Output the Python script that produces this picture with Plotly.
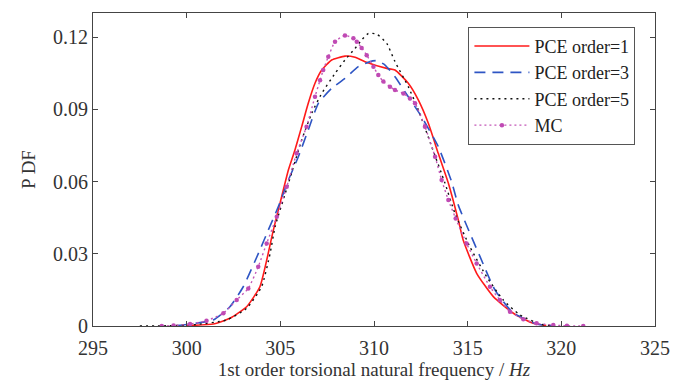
import plotly.graph_objects as go

# PCE order = 1
pce1_x = [300.0, 301.42, 302.31, 303.2, 303.91, 304.63, 305.07, 305.43, 305.78, 306.14, 306.49, 306.85,
          307.21, 307.74, 308.45, 308.99, 309.52, 310.68, 311.12, 311.83, 312.37, 312.9, 313.43, 313.97, 314.5,
          314.76, 315.48, 316.37, 317.44, 318.5, 319.2]
pce1_y = [0.0002, 0.0008, 0.0032, 0.0080, 0.0163, 0.0399, 0.0537, 0.0648, 0.0731, 0.0828, 0.0925, 0.1008,
          0.1063, 0.1105, 0.1121, 0.1116, 0.1098, 0.1070, 0.1063, 0.1008, 0.0938, 0.0842, 0.0717, 0.0593, 0.0440,
          0.0357, 0.0219, 0.0122, 0.0053, 0.0011, 0.0002]

# PCE order = 3
pce3_x = [299.5, 301.42, 302.31, 303.02, 303.91, 304.36, 304.89, 305.43, 305.96, 306.49, 307.03, 307.74, 308.45,
          309.16, 309.79, 310.15, 310.59, 311.12, 311.83, 312.54, 313.43, 314.14, 314.5, 315.66, 316.46, 317.42,
          317.79, 318.68, 319.5]
pce3_y = [0.0002, 0.0025, 0.0080, 0.0163, 0.0316, 0.0399, 0.0495, 0.0606, 0.0703, 0.0814, 0.0925, 0.0987, 0.1028,
          0.1077, 0.1098, 0.1102, 0.1084, 0.1035, 0.0952, 0.0869, 0.0745, 0.0600, 0.0502, 0.0288, 0.0149, 0.0054,
          0.0039, 0.0008, 0.0001]

# PCE order = 5
pce5_x = [297.5, 299.0, 300.5, 302.13, 303.2, 304.0, 304.45, 304.72, 305.43, 306.14, 306.67, 307.21, 307.92,
          308.45, 308.99, 309.34, 309.7, 310.15, 310.68, 311.12, 311.83, 312.37, 313.08, 313.79, 314.32, 315.12,
          316.01, 316.9, 317.79, 318.86, 319.5]
pce5_y = [0.0, 0.0001, 0.0006, 0.0025, 0.0073, 0.0163, 0.0300, 0.0412, 0.0592, 0.0772, 0.0883, 0.0966, 0.1049,
          0.1105, 0.1153, 0.1188, 0.1215, 0.1212, 0.1174, 0.1098, 0.0994, 0.0897, 0.0745, 0.0593, 0.0468, 0.0329,
          0.0205, 0.0108, 0.0046, 0.0008, 0.0001]

# Monte Carlo
mc_x = [298.67, 299.3, 300.18, 301.06, 301.96, 302.67, 303.29, 303.82, 304.27, 304.81, 305.34, 305.87, 306.4,
        306.85, 307.12, 307.29, 307.56, 307.92, 308.45, 308.9, 309.08, 309.34, 309.61, 309.97, 310.23, 310.5,
        310.85, 311.12, 311.57, 311.92, 312.19, 312.72, 313.26, 313.61, 313.97, 314.36, 314.94, 315.48, 316.19,
        316.72, 317.26, 317.97, 318.68, 319.57, 320.3, 321.17]
mc_y = [0.0, 0.0002, 0.0008, 0.0022, 0.0053, 0.0108, 0.0156, 0.0246, 0.0343, 0.0454, 0.0578, 0.0717, 0.0828,
        0.0952, 0.1021, 0.1063, 0.1118, 0.1181, 0.1207, 0.1195, 0.1181, 0.1155, 0.1125, 0.1077, 0.1042, 0.1015,
        0.0994, 0.0980, 0.0966, 0.0945, 0.0925, 0.0828, 0.0703, 0.0606, 0.0523, 0.0447, 0.0343, 0.0260, 0.0163,
        0.0108, 0.0059, 0.0028, 0.0011, 0.0004, 0.0001, 0.0]

x_ticks = [295, 300, 305, 310, 315, 320, 325]
y_ticks = [0, 0.03, 0.06, 0.09, 0.12]
y_tick_labels = ["0", "0.03", "0.06", "0.09", "0.12"]

FONT = "Liberation Serif"
TXT = "#333333"

fig = go.Figure()
fig.add_trace(go.Scatter(x=pce1_x, y=pce1_y, mode="lines", name="PCE order=1",
                         line=dict(color="#FF1A1A", width=1.6, shape="spline", smoothing=0.5)))
fig.add_trace(go.Scatter(x=pce3_x, y=pce3_y, mode="lines", name="PCE order=3",
                         line=dict(color="#2E55C4", width=1.6, dash="11px,7px", shape="spline", smoothing=0.5)))
fig.add_trace(go.Scatter(x=pce5_x, y=pce5_y, mode="lines", name="PCE order=5",
                         line=dict(color="#111111", width=1.4, dash="2px,4px", shape="spline", smoothing=0.5)))
fig.add_trace(go.Scatter(x=mc_x, y=mc_y, mode="lines+markers", name="MC",
                         line=dict(color="#C457B8", width=1.4, dash="2px,3px", shape="spline", smoothing=0.5),
                         marker=dict(color="#C04AB4", size=4.5)))

axis_common = dict(showline=True, linecolor="#444444", linewidth=1, mirror="ticks", ticks="inside",
                   ticklen=5, tickcolor="#444444", showgrid=False, zeroline=False, automargin=False,
                   tickfont=dict(family=FONT, size=20, color=TXT))

# page body has an 8px margin, so the figure is sized to fit the 678x388 window
fig.update_layout(
    width=670, height=380,
    margin=dict(l=85, r=23, t=5, b=62),
    paper_bgcolor="white", plot_bgcolor="white",
    font=dict(family=FONT, size=19, color=TXT),
    xaxis=dict(range=[295, 325], tickvals=x_ticks, ticklabelstandoff=4,
               title=dict(text="1st order torsional natural frequency / <i>Hz</i>",
                          font=dict(family=FONT, size=19, color=TXT), standoff=4),
               **axis_common),
    yaxis=dict(range=[0, 0.13], tickvals=y_ticks, ticktext=y_tick_labels,
               title=dict(text="P DF", font=dict(family=FONT, size=19, color=TXT), standoff=12),
               **axis_common),
    legend=dict(x=0.668, y=0.956, xanchor="left", yanchor="top",
                bgcolor="white", bordercolor="#555555", borderwidth=1,
                font=dict(family=FONT, size=18, color="#222222"),
                itemwidth=55, tracegroupgap=0),
    showlegend=True,
)

fig.write_html("out.html")
